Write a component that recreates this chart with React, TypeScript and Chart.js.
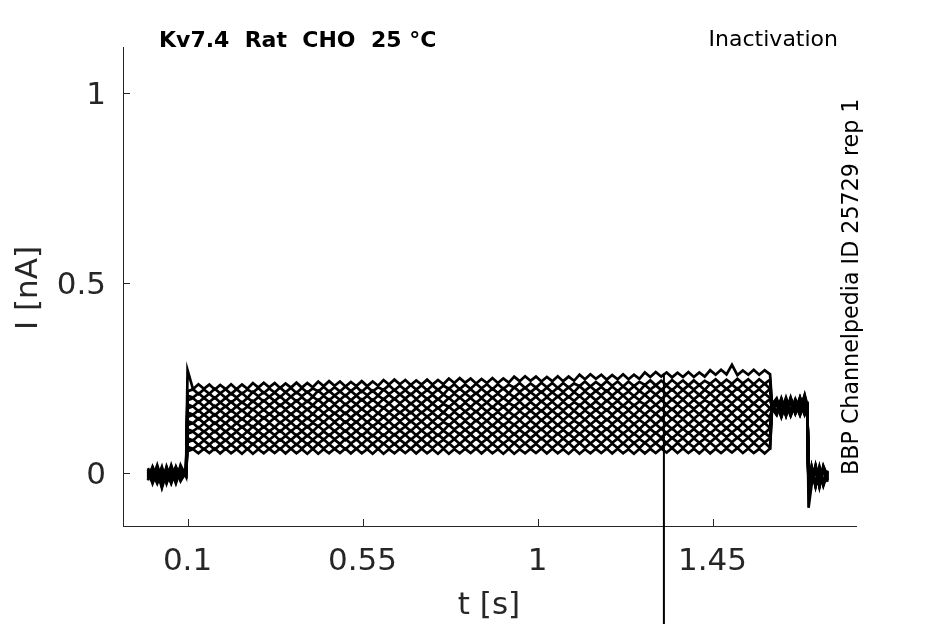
import React, { useEffect, useRef } from 'react';
import { Chart, registerables } from 'chart.js';

Chart.register(...registerables);

// ---- text ----
const TITLE = 'Kv7.4  Rat  CHO  25 °C';
const PROTOCOL = 'Inactivation';
const SOURCE = 'BBP Channelpedia ID 25729 rep 1';
const X_LABEL = 't [s]';
const Y_LABEL = 'I [nA]';

// ---- axes ----
const X_TICKS = [0.1, 0.55, 1, 1.45];
const Y_TICKS = [0, 0.5, 1];
const X_RANGE = [-0.066, 1.819];
const Y_RANGE = [-0.14, 1.12];

// ---- sample times (s) ----
const T_BASE = [-0.002, 0.01, 0.022, 0.034, 0.046, 0.058, 0.07, 0.082, 0.096];
const T_PULSE = [
  0.1, 0.114, 0.128, 0.142, 0.156, 0.17, 0.184, 0.198, 0.212, 0.226,
  0.24, 0.254, 0.268, 0.282, 0.296, 0.31, 0.324, 0.338, 0.352, 0.366,
  0.38, 0.394, 0.408, 0.422, 0.436, 0.45, 0.464, 0.478, 0.492, 0.506,
  0.52, 0.534, 0.548, 0.562, 0.576, 0.59, 0.604, 0.618, 0.632, 0.646,
  0.66, 0.674, 0.688, 0.702, 0.716, 0.73, 0.744, 0.758, 0.772, 0.786,
  0.8, 0.814, 0.828, 0.842, 0.856, 0.87, 0.884, 0.898, 0.912, 0.926,
  0.94, 0.954, 0.968, 0.982, 0.996, 1.01, 1.024, 1.038, 1.052, 1.066,
  1.08, 1.094, 1.108, 1.122, 1.136, 1.15, 1.164, 1.178, 1.192, 1.206,
  1.22, 1.234, 1.248, 1.262, 1.276, 1.29, 1.304, 1.318, 1.332, 1.346,
  1.36, 1.374, 1.388, 1.402, 1.416, 1.43, 1.444, 1.458, 1.472, 1.486,
  1.5, 1.514, 1.528, 1.542, 1.556, 1.57, 1.584, 1.598,
];
const T_TAIL = [1.603, 1.615, 1.627, 1.639, 1.651, 1.663, 1.675, 1.687, 1.694];
const T_POST = [1.697, 1.705, 1.715, 1.725, 1.735, 1.746];

// ---- currents (pA = 0.001 nA) ----
const BASE_SEG = [
  [0, -20, 8, -28, 4, -16, 12, -12, 2],
  [-12, 8, -24, 12, -16, 16, -20, 8, -8],
  [8, -28, 4, -40, 0, -20, 16, -16, 4],
  [-8, 12, -16, 16, -28, 8, -12, 12, -4],
  [4, -16, 20, -20, 8, -24, 4, -8, 6],
  [-16, 4, -20, 8, -12, 12, -24, 20, -10],
  [-4, -24, 8, -32, 12, -12, 8, -20, 0],
  [12, -12, 16, -16, 0, -28, 12, -16, -2],
  [-20, 16, -12, 8, -24, 4, -16, 16, -6],
  [0, -16, 12, -36, 16, -16, 0, -12, 2],
  [-12, 0, -28, 4, -20, 20, -16, 4, -8],
  [2, -22, 6, -18, 14, -26, 4, -14, 0],
  [-14, 10, -22, 2, -18, 6, -28, 10, -6],
  [6, -10, 14, -24, 2, -20, 8, -22, 4],
  [-10, 14, -18, 6, -26, 10, -10, 6, -8],
  [-2, -18, 4, -22, 8, -14, 14, -10, 0],
];

const PULSE_1 = [
  270, 220, 233, 221, 232, 219, 231, 220, 233, 220, 232, 221,
  236, 224, 237, 225, 236, 223, 235, 224, 237, 224, 236, 225,
  240, 228, 241, 229, 240, 227, 239, 228, 241, 228, 240, 229,
  244, 232, 245, 233, 244, 231, 243, 232, 245, 232, 244, 233,
  248, 236, 249, 237, 248, 235, 247, 236, 249, 236, 248, 237,
  253, 241, 254, 242, 253, 240, 252, 241, 254, 241, 253, 242,
  258, 246, 259, 247, 258, 245, 257, 246, 259, 246, 258, 247,
  264, 252, 265, 253, 264, 251, 263, 252, 265, 252, 264, 253,
  270, 258, 271, 259, 284, 257, 269, 258, 271, 258, 270, 259,
];
const PULSE_2 = [
  214, 220, 207, 219, 208, 221, 209, 220, 207, 220, 208, 219,
  211, 223, 210, 222, 211, 224, 212, 223, 210, 223, 211, 222,
  214, 226, 213, 225, 214, 227, 215, 226, 213, 226, 214, 225,
  218, 230, 217, 229, 218, 231, 219, 230, 217, 230, 218, 229,
  221, 233, 220, 232, 221, 234, 222, 233, 220, 233, 221, 232,
  224, 236, 223, 235, 224, 237, 225, 236, 223, 236, 224, 235,
  228, 240, 227, 239, 228, 241, 229, 240, 227, 240, 228, 239,
  231, 243, 230, 242, 231, 244, 232, 243, 230, 243, 231, 242,
  234, 246, 233, 245, 234, 247, 235, 246, 233, 246, 234, 245,
];
const PULSE_3 = [
  203, 198, 209, 197, 208, 196, 209, 197, 209, 198, 210, 197,
  213, 201, 212, 200, 211, 199, 212, 200, 212, 201, 213, 200,
  216, 204, 215, 203, 214, 202, 215, 203, 215, 204, 216, 203,
  219, 207, 218, 206, 217, 205, 218, 206, 218, 207, 219, 206,
  222, 210, 221, 209, 220, 208, 221, 209, 221, 210, 222, 209,
  225, 213, 224, 212, 223, 211, 224, 212, 224, 213, 225, 212,
  228, 216, 227, 215, 226, 214, 227, 215, 227, 216, 228, 215,
  231, 219, 230, 218, 229, 217, 230, 218, 230, 219, 231, 218,
  234, 222, 233, 221, 232, 220, 233, 221, 233, 222, 234, 221,
];
const PULSE_4 = [
  191, 196, 185, 197, 186, 198, 185, 197, 185, 196, 184, 197,
  187, 199, 188, 200, 189, 201, 188, 200, 188, 199, 187, 200,
  190, 202, 191, 203, 192, 204, 191, 203, 191, 202, 190, 203,
  193, 205, 194, 206, 195, 207, 194, 206, 194, 205, 193, 206,
  196, 208, 197, 209, 198, 210, 197, 209, 197, 208, 196, 209,
  199, 211, 200, 212, 201, 213, 200, 212, 200, 211, 199, 212,
  202, 214, 203, 215, 204, 216, 203, 215, 203, 214, 202, 215,
  205, 217, 206, 218, 207, 219, 206, 218, 206, 217, 205, 218,
  208, 220, 209, 221, 210, 222, 209, 221, 209, 220, 208, 221,
];
const PULSE_5 = [
  180, 174, 187, 175, 186, 173, 185, 174, 187, 174, 186, 175,
  189, 177, 190, 178, 189, 176, 188, 177, 190, 177, 189, 178,
  192, 180, 193, 181, 192, 179, 191, 180, 193, 180, 192, 181,
  194, 182, 195, 183, 194, 181, 193, 182, 195, 182, 194, 183,
  197, 185, 198, 186, 197, 184, 196, 185, 198, 185, 197, 186,
  200, 188, 201, 189, 200, 187, 199, 188, 201, 188, 200, 189,
  202, 190, 203, 191, 202, 189, 201, 190, 203, 190, 202, 191,
  205, 193, 206, 194, 205, 192, 204, 193, 206, 193, 205, 194,
  208, 196, 209, 197, 208, 195, 207, 196, 209, 196, 208, 197,
];
const PULSE_6 = [
  169, 175, 162, 174, 163, 176, 164, 175, 162, 175, 163, 174,
  166, 178, 165, 177, 166, 179, 167, 178, 165, 178, 166, 177,
  168, 180, 167, 179, 168, 181, 169, 180, 167, 180, 168, 179,
  170, 182, 169, 181, 170, 183, 171, 182, 169, 182, 170, 181,
  173, 185, 172, 184, 173, 186, 174, 185, 172, 185, 173, 184,
  175, 187, 174, 186, 175, 188, 176, 187, 174, 187, 175, 186,
  177, 189, 176, 188, 177, 190, 178, 189, 176, 189, 177, 188,
  180, 192, 179, 191, 180, 193, 181, 192, 179, 192, 180, 191,
  183, 195, 182, 194, 183, 196, 184, 195, 182, 195, 183, 194,
];
const PULSE_7 = [
  158, 153, 164, 152, 163, 151, 164, 152, 164, 153, 165, 152,
  167, 155, 166, 154, 165, 153, 166, 154, 166, 155, 167, 154,
  169, 157, 168, 156, 167, 155, 168, 156, 168, 157, 169, 156,
  171, 159, 170, 158, 169, 157, 170, 158, 170, 159, 171, 158,
  174, 162, 173, 161, 172, 160, 173, 161, 173, 162, 174, 161,
  176, 164, 175, 163, 174, 162, 175, 163, 175, 164, 176, 163,
  178, 166, 177, 165, 176, 164, 177, 165, 177, 166, 178, 165,
  180, 168, 179, 167, 178, 166, 179, 167, 179, 168, 180, 167,
  183, 171, 182, 170, 181, 169, 182, 170, 182, 171, 183, 170,
];
const PULSE_8 = [
  147, 152, 141, 153, 142, 154, 141, 153, 141, 152, 140, 153,
  142, 154, 143, 155, 144, 156, 143, 155, 143, 154, 142, 155,
  144, 156, 145, 157, 146, 158, 145, 157, 145, 156, 144, 157,
  146, 158, 147, 159, 148, 160, 147, 159, 147, 158, 146, 159,
  148, 160, 149, 161, 150, 162, 149, 161, 149, 160, 148, 161,
  150, 162, 151, 163, 152, 164, 151, 163, 151, 162, 150, 163,
  152, 164, 153, 165, 154, 166, 153, 165, 153, 164, 152, 165,
  154, 166, 155, 167, 156, 168, 155, 167, 155, 166, 154, 167,
  156, 168, 157, 169, 158, 170, 157, 169, 157, 168, 156, 169,
];
const PULSE_9 = [
  136, 130, 143, 131, 142, 129, 141, 130, 143, 130, 142, 131,
  144, 132, 145, 133, 144, 131, 143, 132, 145, 132, 144, 133,
  145, 133, 146, 134, 145, 132, 144, 133, 146, 133, 145, 134,
  147, 135, 148, 136, 147, 134, 146, 135, 148, 135, 147, 136,
  149, 137, 150, 138, 149, 136, 148, 137, 150, 137, 149, 138,
  151, 139, 152, 140, 151, 138, 150, 139, 152, 139, 151, 140,
  152, 140, 153, 141, 152, 139, 151, 140, 153, 140, 152, 141,
  154, 142, 155, 143, 154, 141, 153, 142, 155, 142, 154, 143,
  156, 144, 157, 145, 156, 143, 155, 144, 157, 144, 156, 145,
];
const PULSE_10 = [
  125, 131, 118, 130, 119, 132, 120, 131, 118, 131, 119, 130,
  120, 132, 119, 131, 120, 133, 121, 132, 119, 132, 120, 131,
  122, 134, 121, 133, 122, 135, 123, 134, 121, 134, 122, 133,
  123, 135, 122, 134, 123, 136, 124, 135, 122, 135, 123, 134,
  125, 137, 124, 136, 125, 138, 126, 137, 124, 137, 125, 136,
  126, 138, 125, 137, 126, 139, 127, 138, 125, 138, 126, 137,
  128, 140, 127, 139, 128, 141, 129, 140, 127, 140, 128, 139,
  129, 141, 128, 140, 129, 142, 130, 141, 128, 141, 129, 140,
  131, 143, 130, 142, 131, 144, 132, 143, 130, 143, 131, 142,
];
const PULSE_11 = [
  114, 109, 120, 108, 119, 107, 120, 108, 120, 109, 121, 108,
  122, 110, 121, 109, 120, 108, 121, 109, 121, 110, 122, 109,
  123, 111, 122, 110, 121, 109, 122, 110, 122, 111, 123, 110,
  124, 112, 123, 111, 122, 110, 123, 111, 123, 112, 124, 111,
  126, 114, 125, 113, 124, 112, 125, 113, 125, 114, 126, 113,
  127, 115, 126, 114, 125, 113, 126, 114, 126, 115, 127, 114,
  128, 116, 127, 115, 126, 114, 127, 115, 127, 116, 128, 115,
  129, 117, 128, 116, 127, 115, 128, 116, 128, 117, 129, 116,
  131, 119, 130, 118, 129, 117, 130, 118, 130, 119, 131, 118,
];
const PULSE_12 = [
  103, 108, 97, 109, 98, 110, 97, 109, 97, 108, 96, 109,
  97, 109, 98, 110, 99, 111, 98, 110, 98, 109, 97, 110,
  97, 109, 98, 110, 99, 111, 98, 110, 98, 109, 97, 110,
  98, 110, 99, 111, 100, 112, 99, 111, 99, 110, 98, 111,
  100, 112, 101, 113, 102, 114, 101, 113, 101, 112, 100, 113,
  101, 113, 102, 114, 103, 115, 102, 114, 102, 113, 101, 114,
  102, 114, 103, 115, 104, 116, 103, 115, 103, 114, 102, 115,
  103, 115, 104, 116, 105, 117, 104, 116, 104, 115, 103, 116,
  104, 116, 105, 117, 106, 118, 105, 117, 105, 116, 104, 117,
];
const PULSE_13 = [
  91, 85, 98, 86, 97, 84, 96, 85, 98, 85, 97, 86,
  98, 86, 99, 87, 98, 85, 97, 86, 99, 86, 98, 87,
  99, 87, 100, 88, 99, 86, 98, 87, 100, 87, 99, 88,
  100, 88, 101, 89, 100, 87, 99, 88, 101, 88, 100, 89,
  101, 89, 102, 90, 101, 88, 100, 89, 102, 89, 101, 90,
  102, 90, 103, 91, 102, 89, 101, 90, 103, 90, 102, 91,
  103, 91, 104, 92, 103, 90, 102, 91, 104, 91, 103, 92,
  104, 92, 105, 93, 104, 91, 103, 92, 105, 92, 104, 93,
  105, 93, 106, 94, 105, 92, 104, 93, 106, 93, 105, 94,
];
const PULSE_14 = [
  80, 86, 73, 85, 74, 87, 75, 86, 73, 86, 74, 85,
  75, 87, 74, 86, 75, 88, 76, 87, 74, 87, 75, 86,
  76, 88, 75, 87, 76, 89, 77, 88, 75, 88, 76, 87,
  76, 88, 75, 87, 76, 89, 77, 88, 75, 88, 76, 87,
  77, 89, 76, 88, 77, 90, 78, 89, 76, 89, 77, 88,
  78, 90, 77, 89, 78, 91, 79, 90, 77, 90, 78, 89,
  78, 90, 77, 89, 78, 91, 79, 90, 77, 90, 78, 89,
  79, 91, 78, 90, 79, 92, 80, 91, 78, 91, 79, 90,
  80, 92, 79, 91, 80, 93, 81, 92, 79, 92, 80, 91,
];
const PULSE_15 = [
  68, 63, 74, 62, 73, 61, 74, 62, 74, 63, 75, 62,
  76, 64, 75, 63, 74, 62, 75, 63, 75, 64, 76, 63,
  76, 64, 75, 63, 74, 62, 75, 63, 75, 64, 76, 63,
  77, 65, 76, 64, 75, 63, 76, 64, 76, 65, 77, 64,
  77, 65, 76, 64, 75, 63, 76, 64, 76, 65, 77, 64,
  78, 66, 77, 65, 76, 64, 77, 65, 77, 66, 78, 65,
  78, 66, 77, 65, 76, 64, 77, 65, 77, 66, 78, 65,
  79, 67, 78, 66, 77, 65, 78, 66, 78, 67, 79, 66,
  79, 67, 78, 66, 77, 65, 78, 66, 78, 67, 79, 66,
];
const PULSE_16 = [
  57, 62, 51, 63, 52, 64, 51, 63, 51, 62, 50, 63,
  50, 62, 51, 63, 52, 64, 51, 63, 51, 62, 50, 63,
  50, 62, 51, 63, 52, 64, 51, 63, 51, 62, 50, 63,
  50, 62, 51, 63, 52, 64, 51, 63, 51, 62, 50, 63,
  50, 62, 51, 63, 52, 64, 51, 63, 51, 62, 50, 63,
  50, 62, 51, 63, 52, 64, 51, 63, 51, 62, 50, 63,
  50, 62, 51, 63, 52, 64, 51, 63, 51, 62, 50, 63,
  51, 63, 52, 64, 53, 65, 52, 64, 52, 63, 51, 64,
  51, 63, 52, 64, 53, 65, 52, 64, 52, 63, 51, 64,
];
const PULSES = [
  PULSE_1, PULSE_2, PULSE_3, PULSE_4, PULSE_5, PULSE_6, PULSE_7, PULSE_8,
  PULSE_9, PULSE_10, PULSE_11, PULSE_12, PULSE_13, PULSE_14, PULSE_15, PULSE_16,
];

const TAIL_SEG = [
  [180, 196, 160, 198, 162, 194, 166, 205, 178],
  [174, 156, 190, 152, 192, 158, 188, 154, 170],
  [176, 192, 158, 194, 160, 190, 164, 200, 174],
  [170, 152, 186, 150, 188, 156, 186, 152, 168],
  [168, 184, 150, 186, 154, 184, 156, 192, 170],
  [176, 158, 192, 156, 194, 160, 196, 160, 172],
  [164, 182, 146, 184, 150, 182, 152, 186, 168],
  [178, 160, 194, 158, 196, 162, 198, 162, 175],
  [168, 186, 152, 188, 154, 186, 156, 190, 171],
  [172, 154, 188, 150, 190, 156, 190, 156, 169],
  [174, 190, 156, 192, 158, 190, 160, 203, 172],
  [166, 184, 150, 186, 152, 184, 154, 188, 167],
  [178, 160, 196, 158, 198, 162, 198, 164, 176],
  [170, 188, 154, 190, 156, 188, 158, 196, 170],
  [174, 156, 190, 154, 192, 158, 194, 158, 171],
  [164, 182, 148, 184, 150, 182, 152, 186, 166],
];
const POST_SEG = [
  [-92, -30, 12, -36, 8, -20],
  [-40, 10, -30, 16, -26, 4],
  [-34, -22, 16, -30, 12, -16],
  [-50, 14, -34, 8, -30, 6],
  [-26, -26, 20, -22, 10, -24],
  [-46, 6, -36, 12, -22, -2],
  [-30, -30, 8, -34, 16, -12],
  [-38, 16, -26, 4, -34, 2],
  [-24, -18, 12, -38, 6, -20],
  [-44, 10, -32, 14, -28, 0],
  [-32, -24, 16, -28, 8, -18],
  [-36, -16, 14, -32, 12, -14],
  [-48, 6, -28, 10, -24, -4],
  [-28, -20, 18, -26, 14, -16],
  [-42, 14, -36, 6, -32, 2],
  [-30, -28, 10, -24, 18, -10],
];

// recording artefact (vertical spike)
const ARTIFACT_T = [1.325, 1.325];
const ARTIFACT_I = [0.262, -0.45];

const T_ALL = [...T_BASE, ...T_PULSE, ...T_TAIL, ...T_POST];

const FONT = '"DejaVu Sans", "Liberation Sans", sans-serif';
const INK = '#262626';

const decor = {
  id: 'decor',
  afterDraw(chart: any) {
    const { ctx, chartArea: a, scales } = chart;
    const x = scales.x;
    const y = scales.y;
    ctx.save();
    ctx.strokeStyle = INK;
    ctx.lineWidth = 1;
    ctx.beginPath();
    X_TICKS.forEach((v) => {
      const p = Math.round(x.getPixelForValue(v)) + 0.5;
      ctx.moveTo(p, a.bottom);
      ctx.lineTo(p, a.bottom - 7);
    });
    Y_TICKS.forEach((v) => {
      const p = Math.round(y.getPixelForValue(v)) + 0.5;
      ctx.moveTo(a.left, p);
      ctx.lineTo(a.left + 7, p);
    });
    ctx.stroke();

    ctx.fillStyle = '#000';
    ctx.textBaseline = 'alphabetic';
    ctx.font = `bold 22px ${FONT}`;
    ctx.textAlign = 'left';
    ctx.fillText(TITLE, 159, 47);

    ctx.font = `22px ${FONT}`;
    ctx.textAlign = 'right';
    ctx.fillText(PROTOCOL, 838, 46);

    ctx.save();
    ctx.translate(858, 475);
    ctx.rotate(-Math.PI / 2);
    ctx.textAlign = 'left';
    ctx.font = `22.2px ${FONT}`;
    ctx.fillText(SOURCE, 0, 0);
    ctx.restore();

    ctx.fillStyle = INK;
    ctx.font = `31px ${FONT}`;
    ctx.textAlign = 'center';
    ctx.fillText(X_LABEL, 489, 614);
    ctx.save();
    ctx.translate(37, 288);
    ctx.rotate(-Math.PI / 2);
    ctx.fillText(Y_LABEL, 0, 0);
    ctx.restore();
    ctx.restore();
  },
};

export default function App() {
  const ref = useRef<HTMLCanvasElement | null>(null);

  useEffect(() => {
    if (!ref.current) return;
    const traces = PULSES.map((pulse, i) => {
      const vals = [...BASE_SEG[i], ...pulse, ...TAIL_SEG[i], ...POST_SEG[i]];
      return {
        label: `sweep ${i + 1}`,
        data: T_ALL.map((t, j) => ({ x: t, y: vals[j] / 1000 })),
        borderColor: '#000',
        borderWidth: 2.7,
        pointRadius: 0,
        tension: 0,
        fill: false,
      };
    });
    const artifact = {
      label: 'artifact',
      data: ARTIFACT_T.map((t, j) => ({ x: t, y: ARTIFACT_I[j] })),
      borderColor: '#000',
      borderWidth: 2,
      pointRadius: 0,
      fill: false,
      clip: false as any,
    };

    const tickFont = { family: FONT, size: 31 };
    const chart = new Chart(ref.current, {
      type: 'line',
      data: { datasets: [...traces, artifact] as any },
      options: {
        animation: false,
        responsive: false,
        devicePixelRatio: 1,
        layout: { padding: { left: 0, top: 47, right: 89, bottom: 0 } },
        plugins: {
          legend: { display: false },
          tooltip: { enabled: false },
          title: { display: false },
        },
        scales: {
          x: {
            type: 'linear',
            min: X_RANGE[0],
            max: X_RANGE[1],
            grid: { display: false, drawTicks: false },
            border: { display: true, color: INK, width: 1 },
            afterBuildTicks: (s: any) => {
              s.ticks = X_TICKS.map((v) => ({ value: v }));
            },
            afterFit: (s: any) => {
              s.height = 98;
            },
            ticks: {
              font: tickFont,
              color: INK,
              padding: 17,
              maxRotation: 0,
              autoSkip: false,
              callback: (v: any) => String(v),
            },
          },
          y: {
            type: 'linear',
            min: Y_RANGE[0],
            max: Y_RANGE[1],
            grid: { display: false, drawTicks: false },
            border: { display: true, color: INK, width: 1 },
            afterBuildTicks: (s: any) => {
              s.ticks = Y_TICKS.map((v) => ({ value: v }));
            },
            afterFit: (s: any) => {
              s.width = 123;
            },
            ticks: {
              font: tickFont,
              color: INK,
              padding: 17,
              labelOffset: 3,
              autoSkip: false,
              callback: (v: any) => String(v),
            },
          },
        },
      } as any,
      plugins: [decor],
    });
    return () => chart.destroy();
  }, []);

  return (
    <div style={{ position: 'fixed', left: 0, top: 0, width: 945, height: 624, background: '#fff' }}>
      <canvas ref={ref} width={945} height={624} style={{ display: 'block', width: 945, height: 624 }} />
    </div>
  );
}
